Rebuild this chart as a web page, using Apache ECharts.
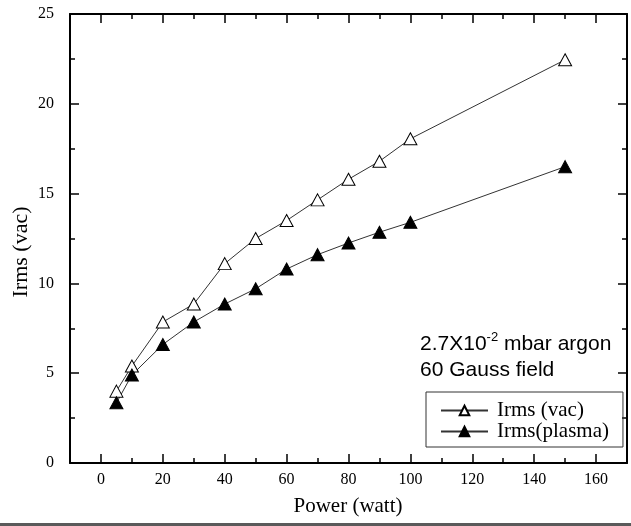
<!DOCTYPE html>
<html>
<head>
<meta charset="utf-8">
<script src="https://cdn.jsdelivr.net/npm/echarts@6/dist/echarts.min.js"></script>
<style>
  html, body { margin: 0; padding: 0; background: #fff; }
  #chart { width: 631px; height: 526px; }
</style>
</head>
<body>
<div id="chart"></div>
<script>
// Discharge current vs. input power
const power = [5, 10, 20, 30, 40, 50, 60, 70, 80, 90, 100, 150];
const irmsVac = [4.0, 5.4, 7.85, 8.85, 11.1, 12.5, 13.5, 14.65, 15.8, 16.8, 18.05, 22.45];
const irmsPlasma = [3.35, 4.9, 6.6, 7.85, 8.85, 9.7, 10.8, 11.6, 12.25, 12.85, 13.4, 16.5];

const xMajorTicks = [0, 20, 40, 60, 80, 100, 120, 140, 160];
const xMinorTicks = [10, 30, 50, 70, 90, 110, 130, 150];
const seriesNames = ['Irms (vac)', 'Irms(plasma)'];

const serif = '"Liberation Serif", "Times New Roman", serif';
const sans = '"Liberation Sans", Arial, sans-serif';

const chart = echarts.init(document.getElementById('chart'), null, { renderer: 'canvas' });

function xAxisDef(position, ticks, len, withLine, withLabels) {
  return {
    type: 'value', position: position, min: -10, max: 170,
    axisLine: { show: withLine, onZero: false, lineStyle: { color: '#000', width: 2 } },
    axisTick: { show: true, inside: true, length: len, customValues: ticks, lineStyle: { color: '#000', width: 1.5 } },
    axisLabel: withLabels ? {
      show: true, customValues: ticks, margin: 9,
      fontFamily: serif, fontSize: 16, color: '#000'
    } : { show: false },
    splitLine: { show: false }
  };
}

function yAxisDef(position, withLabels) {
  return {
    type: 'value', position: position, min: 0, max: 25, interval: 5,
    axisLine: { show: true, onZero: false, lineStyle: { color: '#000', width: 2 } },
    axisTick: { show: true, inside: true, length: 9, lineStyle: { color: '#000', width: 1.5 } },
    minorTick: { show: true, splitNumber: 2, length: 5, lineStyle: { color: '#000', width: 1.5 } },
    axisLabel: withLabels ? { show: true, margin: 16, fontFamily: serif, fontSize: 16, color: '#000' } : { show: false },
    splitLine: { show: false }
  };
}

const option = {
  backgroundColor: '#fff',
  animation: false,
  grid: { left: 70, top: 14, right: 4, bottom: 63, containLabel: false },
  xAxis: [
    xAxisDef('bottom', xMajorTicks, 9, true, true),
    xAxisDef('bottom', xMinorTicks, 5, false, false),
    xAxisDef('top', xMajorTicks, 9, true, false),
    xAxisDef('top', xMinorTicks, 5, false, false)
  ],
  yAxis: [
    yAxisDef('left', true),
    yAxisDef('right', false)
  ],
  legend: {
    orient: 'vertical',
    left: 426, top: 392,
    padding: [8, 14, 5, 14],
    itemGap: 0,
    itemWidth: 47, itemHeight: 12,
    borderColor: '#333', borderWidth: 1,
    textStyle: { fontFamily: serif, fontSize: 21, color: '#000', lineHeight: 21, padding: [0, 0, 0, 4] },
    data: seriesNames
  },
  series: [
    {
      name: seriesNames[0], type: 'line',
      xAxisIndex: 0, yAxisIndex: 0,
      data: power.map((p, i) => [p, irmsVac[i]]),
      symbol: 'triangle', symbolSize: [13, 12],
      lineStyle: { color: '#333', width: 1 },
      itemStyle: { color: '#fff', borderColor: '#000', borderWidth: 1 }
    },
    {
      name: seriesNames[1], type: 'line',
      xAxisIndex: 0, yAxisIndex: 0,
      data: power.map((p, i) => [p, irmsPlasma[i]]),
      symbol: 'triangle', symbolSize: [13, 12],
      lineStyle: { color: '#333', width: 1 },
      itemStyle: { color: '#000', borderColor: '#000', borderWidth: 1 }
    }
  ],
  graphic: [
    {
      type: 'text', left: 420, top: 331,
      style: {
        text: '2.7X10{sup|-2} mbar argon\n60 Gauss field',
        font: '21px ' + sans, fill: '#000', lineHeight: 26,
        rich: {
          sup: { fontSize: 13, fontFamily: sans, verticalAlign: 'top', lineHeight: 26, fill: '#000' }
        }
      }
    },
    {
      type: 'text', x: 21, y: 252, rotation: Math.PI / 2,
      style: { text: 'Irms (vac)', font: '22px ' + serif, fill: '#000', align: 'center', verticalAlign: 'middle' }
    },
    {
      type: 'text', x: 348, y: 506,
      style: { text: 'Power (watt)', font: '21px ' + serif, fill: '#000', align: 'center', verticalAlign: 'middle' }
    },
    {
      type: 'rect', shape: { x: 0, y: 523, width: 631, height: 3 },
      style: { fill: '#5a5a5a' }
    }
  ]
};

chart.setOption(option);
</script>
</body>
</html>
